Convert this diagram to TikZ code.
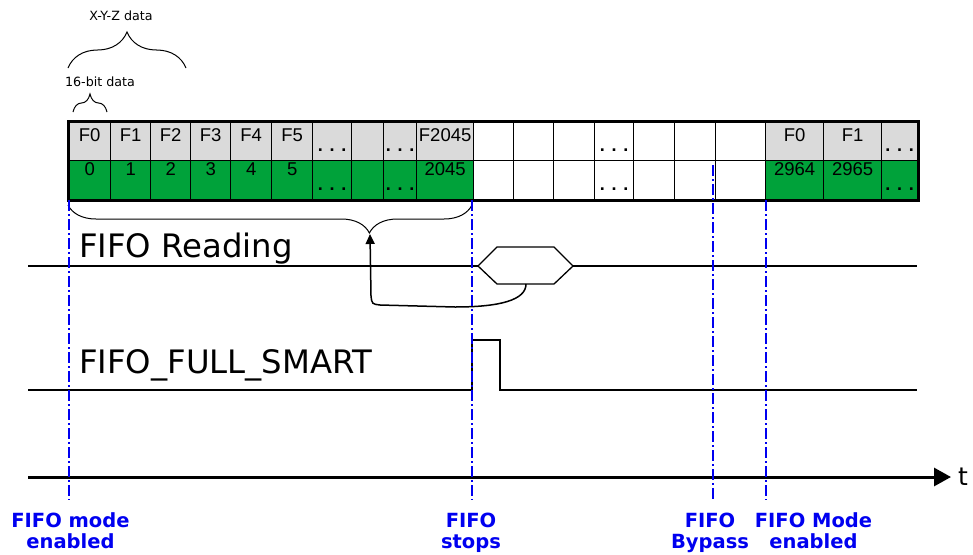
\documentclass[tikz,border=0pt]{standalone}
\usepackage{fontspec}
\setmainfont{DejaVu Sans}
\newfontfamily\arialf{Liberation Sans}
\usetikzlibrary{decorations.pathreplacing,arrows.meta,calc}
\definecolor{cellgray}{RGB}{218,218,218}
\definecolor{cellgreen}{RGB}{0,162,58}
\definecolor{labblue}{RGB}{0,0,240}
\begin{document}
\begin{tikzpicture}[x=1pt,y=-1pt,
  cell/.style={draw=black, line width=1.3pt, anchor=north west, inner sep=0pt, minimum height=39pt},
  celltxt/.style={anchor=base, inner sep=0pt, font=\arialf\fontsize{18.5}{20}\selectfont},
  dottxt/.style={anchor=base, inner sep=0pt, font=\arialf\bfseries\fontsize{18}{20}\selectfont},
  bigtxt/.style={anchor=base west, inner sep=0pt, font=\fontsize{32.3}{36}\selectfont},
  smalltxt/.style={anchor=base, inner sep=0pt, font=\fontsize{12.7}{14}\selectfont},
  blab/.style={anchor=north, inner sep=0pt, align=center, text=labblue, font=\bfseries\fontsize{19.5}{21}\selectfont},
  sig/.style={line width=2.2pt},
  vmark/.style={labblue, line width=1.3pt, dash pattern=on 11pt off 3pt on 2pt off 3pt},
  bracesty/.style={decorate, line width=1pt}
]
\useasboundingbox (0,0) rectangle (973,554);

% ---------- table cells ----------
\foreach \i/\a/\b/\fa/\fb in {
  1/68/110/cellgray/cellgreen, 2/110/150/cellgray/cellgreen, 3/150/190/cellgray/cellgreen,
  4/190/230/cellgray/cellgreen, 5/230/271/cellgray/cellgreen, 6/271/312/cellgray/cellgreen,
  7/312/351/cellgray/cellgreen, 8/351/383/cellgray/cellgreen, 9/383/416/cellgray/cellgreen,
  10/416/473/cellgray/cellgreen, 11/473/513/white/white, 12/513/553/white/white,
  13/553/594/white/white, 14/594/633/white/white, 15/633/674/white/white,
  16/674/715/white/white, 17/715/765/white/white, 18/765/823/cellgray/cellgreen,
  19/823/881/cellgray/cellgreen, 20/881/917/cellgray/cellgreen}{
  \node[cell, fill=\fa, minimum width={(\b-\a)*1pt}] (u\i) at (\a,121) {};
  \node[cell, fill=\fb, minimum width={(\b-\a)*1pt}] (l\i) at (\a,160) {};
}
\draw[line width=3pt] (u1.north west) rectangle (l20.south east);

% top row labels
\foreach \i/\t in {1/F0,2/F1,3/F2,4/F3,5/F4,6/F5,10/F2045,18/F0,19/F1}{
  \node[celltxt] (ut\i) at (u\i.north |- 0,141) {\t};
}
% bottom row labels
\foreach \i/\t in {1/0,2/1,3/2,4/3,5/4,6/5,10/2045,18/2964,19/2965}{
  \node[celltxt] (lt\i) at (l\i.north |- 0,175) {\t};
}
% dots
\foreach \i in {7,9,14,20}{
  \node[dottxt] (ud\i) at (u\i.north |- 0,151) {. . .};
  \node[dottxt] (ld\i) at (l\i.north |- 0,190) {. . .};
}

% ---------- braces above ----------
\node[smalltxt] (xyz) at (121,20) {X-Y-Z data};
\draw[bracesty, decoration={brace, amplitude=36pt}] (68,68) -- (186,68);
\node[smalltxt] (bit16) at (100,86) {16-bit data};
\draw[bracesty, decoration={brace, amplitude=18pt}] (73,112) -- (107,112);

% ---------- FIFO reading ----------
\coordinate (bl) at (68,205);
\coordinate (br) at (472,205);
\coordinate (bracetip) at (370,234);
\draw[bracesty, decoration={brace, mirror, amplitude=28pt, aspect=0.746}] (bl) -- (br);

\node[bigtxt] (rd) at (79,257) {FIFO Reading};
\coordinate (s1a) at (28,266);
\coordinate (hexL) at (478,266);
\coordinate (hexR) at (573,266);
\coordinate (s1b) at (917,266);
\draw[sig] (s1a) -- (hexL);
\draw[sig] (hexR) -- (s1b);
\draw[line width=1.3pt] (hexL) -- (497,247) -- (554,247) -- (hexR) -- (554,284) -- (497,284) -- cycle;
\coordinate (hexb) at (526,284);
\draw[line width=1.5pt, -{Triangle[length=10pt, width=9pt]}]
  (hexb) .. controls (526,300) and (500,307) .. (455,307) -- (380,305)
  .. controls (372,304) .. (371,296) -- (bracetip);

% ---------- FIFO_FULL_SMART ----------
\node[bigtxt] (fs) at (79,373) {FIFO\_FULL\_SMART};
\coordinate (s2a) at (28,390);
\coordinate (s2b) at (917,390);
\draw[sig] (s2a) -- (472,390) -- (472,340) -- (500,340) -- (500,390) -- (s2b);

% ---------- time axis ----------
\coordinate (ta) at (28,477);
\coordinate (tb) at (951,477);
\draw[line width=3pt, -{Triangle[length=17pt, width=18pt]}] (ta) -- (tb);
\node[anchor=base, inner sep=0pt, font=\fontsize{25}{28}\selectfont] (tl) at (963,485) {t};

% ---------- event markers ----------
\draw[vmark] (69,200) -- (69,500);
\draw[vmark] (472,200) -- (472,500);
\draw[vmark] (713,165) -- (713,500);
\draw[vmark] (766,200) -- (766,500);

\node[blab] (e1) at (70.5,512.5) {FIFO mode\\enabled};
\node[blab] (e2) at (471,513) {FIFO\\stops};
\node[blab] (e3) at (710,513) {FIFO\\Bypass};
\node[blab] (e4) at (813.5,512.5) {FIFO Mode\\enabled};
\end{tikzpicture}
\end{document}
